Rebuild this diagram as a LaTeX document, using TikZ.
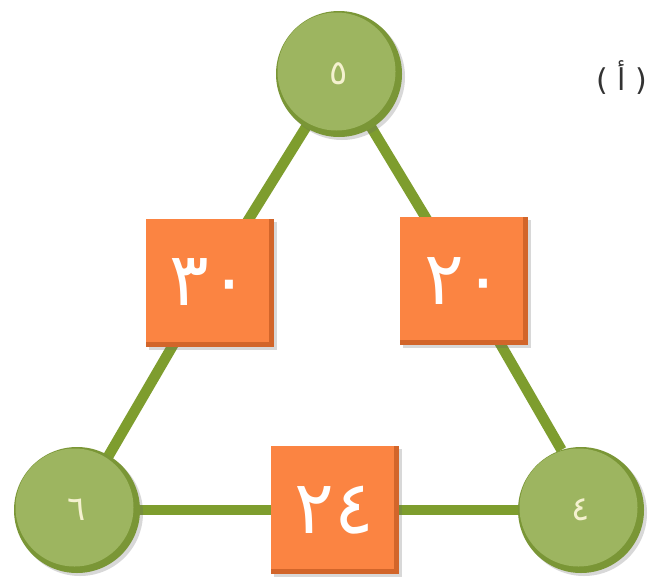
\documentclass[tikz,border=0pt]{standalone}
\usepackage{fontspec}
\newfontfamily\arabicfont[Script=Arabic]{DejaVu Sans}
\newfontfamily\latinsans{DejaVu Sans}
\usetikzlibrary{shadows}
\pgfdeclarelayer{background}
\pgfdeclarelayer{paper}
\pgfsetlayers{paper,background,main}
\definecolor{linegreen}{HTML}{7E9D2E}
\definecolor{cfill}{HTML}{9DB560}
\definecolor{crim}{HTML}{7A9636}
\definecolor{sfill}{HTML}{FB8442}
\definecolor{sedge}{HTML}{D2652A}
\definecolor{cdigit}{HTML}{F4F1CF}
\definecolor{lblcol}{HTML}{333333}
\begin{document}
\begin{tikzpicture}[x=1pt,y=-1pt,
  link/.style={draw=linegreen, line width=10.5pt},
  ballnode/.style={circle, minimum size=126pt, inner sep=0pt, fill=crim,
    drop shadow={shadow xshift=3pt, shadow yshift=-3pt, opacity=0.25, fill=black!60},
    path picture={\fill[cfill] ([xshift=-2.5pt,yshift=2.5pt]path picture bounding box.center) circle (59pt);},
    text=cdigit, font=\arabicfont\fontsize{34}{34}\selectfont},
  boxnode/.style={rectangle, minimum size=128pt, inner sep=0pt, fill=sedge,
    drop shadow={shadow xshift=3pt, shadow yshift=-3pt, opacity=0.25, fill=black!60},
    path picture={\fill[sfill] (path picture bounding box.north west) rectangle ([xshift=-5pt,yshift=5pt]path picture bounding box.south east);},
    text=white, font=\arabicfont\fontsize{74}{74}\selectfont},
  lblnode/.style={text=lblcol, font=\latinsans\fontsize{30}{30}\selectfont}]
\begin{pgfonlayer}{paper}
\fill[white] (0,0) rectangle (663,576);
\end{pgfonlayer}
\useasboundingbox (0,0) rectangle (663,576);
\node[ballnode] (top) at (339,74) {٥};
\node[ballnode] (bl) at (77,510) {٦};
\node[ballnode] (br) at (581,510) {٤};
\node[boxnode] (sqL) at (209.5,282.5) {٣٠};
\node[boxnode] (sqR) at (464,281) {٢٠};
\node[boxnode] (sqB) at (334.5,510) {٢٤};
\node[lblnode] (lbl) at (622,77) {( {\arabicfont أ} )};
\begin{pgfonlayer}{background}
\draw[link] (top.center) -- (sqL.center) -- (bl.center);
\draw[link] (top.center) -- (sqR.center) -- (br.108);
\draw[link] (bl.center) -- (sqB.center) -- (br.center);
\end{pgfonlayer}
\end{tikzpicture}
\end{document}
